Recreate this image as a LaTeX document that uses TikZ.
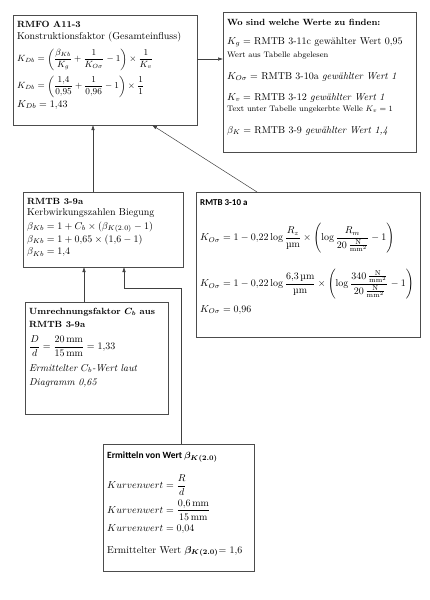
\documentclass[tikz,border=0pt]{standalone}
\usepackage{amsmath, bm}
\usepackage{fontspec}
\newfontfamily\calibri{Carlito}
\usetikzlibrary{arrows.meta}
\newcommand{\pxsize}{1pt}
\newcommand{\um}{\text{µm}}
\newcommand{\Nmm}{\frac{\mathrm{N}}{\mathrm{mm}^2}}

\begin{document}
\begin{tikzpicture}[x=\pxsize,y=-\pxsize]
\useasboundingbox (0,0) rectangle (429,600);
\tikzstyle{box}=[draw=black!70,
                 line width=0.8pt,
                 rectangle,
                 anchor=north west,
                 inner sep=0pt,
                 outer sep=0pt
                 ]
\tikzstyle{line}=[anchor=base west, inner sep=0pt, font=\fontsize{10}{11}\selectfont]
\tikzstyle{headline}=[anchor=base west, inner sep=0pt, font=\fontsize{9}{10}\selectfont\bfseries]
\tikzstyle{eqline}=[anchor=west, inner sep=0pt, font=\fontsize{10}{11}\selectfont]
\tikzstyle{note}=[anchor=base west, inner sep=0pt, font=\fontsize{8}{9}\selectfont]
\tikzstyle{link}=[draw=black!75, line width=0.5pt, -{Latex[length=5pt,width=3.5pt]}]

% the boxes
\node[box, minimum width=184, minimum height=110] (rmfo)  at (13,15) {};
\node[box, minimum width=193, minimum height=140] (wo)    at (223,12) {};
\node[box, minimum width=160, minimum height=75]  (kerb)  at (23,192) {};
\node[box, minimum width=224, minimum height=145] (rau)   at (196,192) {};
\node[box, minimum width=143, minimum height=112] (umr)   at (25,302) {};
\node[box, minimum width=151, minimum height=127] (ermit) at (103,444) {};

% RMFO A11-3
\node[headline] (rmfo1) at (17,27.5)  {RMFO A11-3};
\node[line] (rmfo2) at (17,39)  {Konstruktionsfaktor (Gesamteinfluss)};
\node[eqline, font=\fontsize{9}{10}\selectfont] (rmfo3) at (17,59.5) {$\displaystyle K_{Db}=\left(\frac{\beta_{Kb}}{K_g}+\frac{1}{K_{O\sigma}}-1\right)\times\frac{1}{K_v}$};
\node[eqline, font=\fontsize{9}{10}\selectfont] (rmfo4) at (17,86.5) {$\displaystyle K_{Db}=\left(\frac{1{,}4}{0{,}95}+\frac{1}{0{,}96}-1\right)\times\frac{1}{1}$};
\node[line] (rmfo5) at (17,107) {$K_{Db}=1{,}43$};

% Wo sind welche Werte zu finden
\node[headline] (wo1) at (227,25)  {Wo sind welche Werte zu finden:};
\node[line] (wo2) at (227,44)  {$K_g=$ RMTB 3-11c gewählter Wert 0,95};
\node[note] (wo3) at (227,57)  {Wert aus Tabelle abgelesen};
\node[line] (wo4) at (227,79)  {$K_{O\sigma}=$ RMTB 3-10a \textit{gewählter Wert 1}};
\node[line] (wo5) at (227,100) {$K_v=$ RMTB 3-12 \textit{gewählter Wert 1}};
\node[note] (wo6) at (227,111) {Text unter Tabelle ungekerbte Welle $K_v=1$};
\node[line] (wo7) at (227,133) {$\beta_K=$ RMTB 3-9 \textit{gewählter Wert 1,4}};

% RMTB 3-9a
\node[headline] (kerb1) at (27,204) {RMTB 3-9a};
\node[line] (kerb2) at (27,215) {Kerbwirkungszahlen Biegung};
\node[line] (kerb3) at (27,229) {$\beta_{Kb}=1+C_b\times(\beta_{K(2.0)}-1)$};
\node[line] (kerb4) at (27,242) {$\beta_{Kb}=1+0{,}65\times(1{,}6-1)$};
\node[line] (kerb5) at (27,254.5) {$\beta_{Kb}=1{,}4$};

% RMTB 3-10 a
\node[line, font=\calibri\fontsize{9}{10}\selectfont] (rau1) at (200,205) {\textbf{RMTB 3-10 a}};
\node[eqline] (rau2) at (200,238) {$\displaystyle K_{O\sigma}=1-0{,}22\log\frac{R_z}{\um}\times\left(\log\frac{R_m}{20\,\Nmm}-1\right)$};
\node[eqline] (rau3) at (200,284) {$\displaystyle K_{O\sigma}=1-0{,}22\log\frac{6{,}3\,\um}{\um}\times\left(\log\frac{340\,\Nmm}{20\,\Nmm}-1\right)$};
\node[line] (rau4) at (200,312) {$K_{O\sigma}=0{,}96$};

% Umrechnungsfaktor
\node[headline] (umr1) at (29,314) {Umrechnungsfaktor $\bm{C_b}$ aus};
\node[headline] (umr2) at (29,327) {RMTB 3-9a};
\node[eqline] (umr3) at (29,346) {$\displaystyle \frac{D}{d}=\frac{20\,\mathrm{mm}}{15\,\mathrm{mm}}=1{,}33$};
\node[line] (umr4) at (29,371) {\textit{Ermittelter $C_b$-Wert laut}};
\node[line] (umr5) at (29,385) {\textit{Diagramm 0,65}};

% Ermitteln von Wert
\node[line, font=\calibri\fontsize{9.5}{10}\selectfont] (ermit1) at (107,458) {\textbf{Ermitteln von Wert $\bm{\beta_{K(2.0)}}$}};
\node[eqline] (ermit2) at (107,485) {$\displaystyle Kurvenwert=\frac{R}{d}$};
\node[eqline] (ermit3) at (107,510) {$\displaystyle Kurvenwert=\frac{0{,}6\,\mathrm{mm}}{15\,\mathrm{mm}}$};
\node[line] (ermit4) at (107,531) {$Kurvenwert=0{,}04$};
\node[line] (ermit5) at (107,553) {Ermittelter Wert $\bm{\beta_{K(2.0)}}$= 1,6};

% connectors
\coordinate (awy) at (0,59);
\coordinate (bax) at (93,0);
\coordinate (cbx) at (257,0);
\coordinate (cax) at (152,0);
\coordinate (dbx) at (84,0);
\coordinate (ebx) at (181,0);
\coordinate (eby) at (0,288);
\coordinate (ebx2) at (124,0);
\draw[link] (rmfo.east |- awy) -- (wo.west |- awy);
\draw[link] (kerb.north -| bax) -- (rmfo.south -| bax);
\draw[link] (rau.north -| cbx) -- (rmfo.south -| cax);
\draw[link] (umr.north -| dbx) -- (kerb.south -| dbx);
\draw[link] (ermit.north -| ebx) |- (ebx2 |- eby) -- (kerb.south -| ebx2);
\end{tikzpicture}
\end{document}
